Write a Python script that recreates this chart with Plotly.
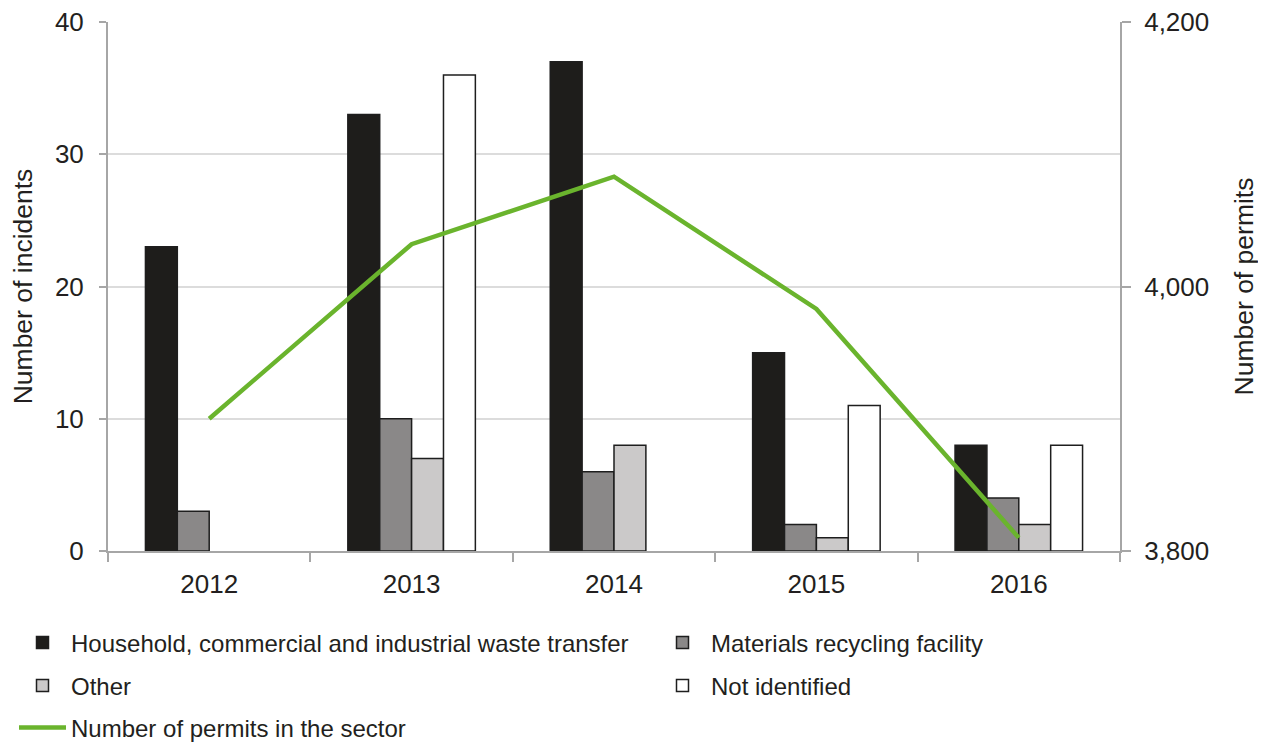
import plotly.graph_objects as go

years = ["2012", "2013", "2014", "2015", "2016"]
household = [23, 33, 37, 15, 8]
mrf = [3, 10, 6, 2, 4]
other = [None, 7, 8, 1, 2]
not_identified = [None, 36, None, 11, 8]
permits = [3900, 4032, 4083, 3983, 3810]

names = [
    "Household, commercial and industrial waste transfer",
    "Materials recycling facility",
    "Other",
    "Not identified",
    "Number of permits in the sector",
]

TXT = "#231f20"
FONT = "Liberation Sans, Arial, sans-serif"
OUT = "#1e1e1e"
W, H = 1258, 734

fig = go.Figure()
series = [household, mrf, other, not_identified]
colors = ["#1e1d1b", "#8a8888", "#cbc9c9", "#ffffff"]
legends = ["legend", "legend2", "legend3", "legend4"]
for vals, nm, c, lg in zip(series, names[:4], colors, legends):
    fig.add_trace(go.Bar(
        x=years, y=vals, name=nm, marker=dict(color=c, line=dict(color=OUT, width=1.5)),
        legend=lg, yaxis="y",
    ))

fig.add_trace(go.Scatter(
    x=years, y=permits, name=names[4], mode="lines",
    line=dict(color="#6ab42d", width=4.5), yaxis="y2", legend="legend5",
))


def leg(xpx, ypx):
    return dict(
        orientation="h", xref="container", yref="container",
        x=xpx / W, y=1 - ypx / H,
        xanchor="left", yanchor="middle", itemwidth=47,
        font=dict(family=FONT, size=24, color=TXT), bgcolor="rgba(0,0,0,0)",
    )


fig.update_layout(
    width=W, height=H,
    margin=dict(l=100, r=146, t=14, b=191, autoexpand=False),
    paper_bgcolor="white", plot_bgcolor="white",
    barmode="group", bargap=0.37, bargroupgap=0,
    font=dict(family=FONT, size=24, color=TXT),
    showlegend=True,
    legend=leg(6, 635),
    legend2=leg(646, 635),
    legend3=leg(6, 678),
    legend4=leg(646, 678),
    legend5=leg(6, 720),
    xaxis=dict(
        type="category", showline=True, linecolor="#a6a6a6", linewidth=2,
        ticks="outside", tickson="boundaries", ticklen=9, tickcolor="#a6a6a6",
        tickwidth=2, showgrid=False, ticklabelstandoff=9, automargin=False,
        tickfont=dict(family=FONT, size=26, color=TXT),
    ),
    yaxis=dict(
        range=[0, 40], dtick=10, showline=True, linecolor="#a6a6a6", linewidth=2,
        ticks="outside", ticklen=7, tickcolor="#a6a6a6", tickwidth=2,
        showgrid=True, gridcolor="#dcdcdc", gridwidth=1.5, zeroline=False,
        ticklabelstandoff=10, automargin=False, ticklabeloverflow="allow",
        tickfont=dict(family=FONT, size=26, color=TXT),
        title=dict(text="Number of incidents", standoff=20,
                   font=dict(family=FONT, size=26.5, color=TXT)),
    ),
    yaxis2=dict(
        overlaying="y", side="right", range=[3800, 4200], dtick=200,
        tickformat=",d", showline=True, linecolor="#a6a6a6", linewidth=2,
        ticks="outside", ticklen=9, tickcolor="#a6a6a6", tickwidth=2,
        showgrid=False, zeroline=False, ticklabelstandoff=8, automargin=False,
        ticklabeloverflow="allow",
        tickfont=dict(family=FONT, size=26, color=TXT),
        title=dict(text="Number of permits", standoff=26,
                   font=dict(family=FONT, size=26.5, color=TXT)),
    ),
)

fig.write_html("out.html")
